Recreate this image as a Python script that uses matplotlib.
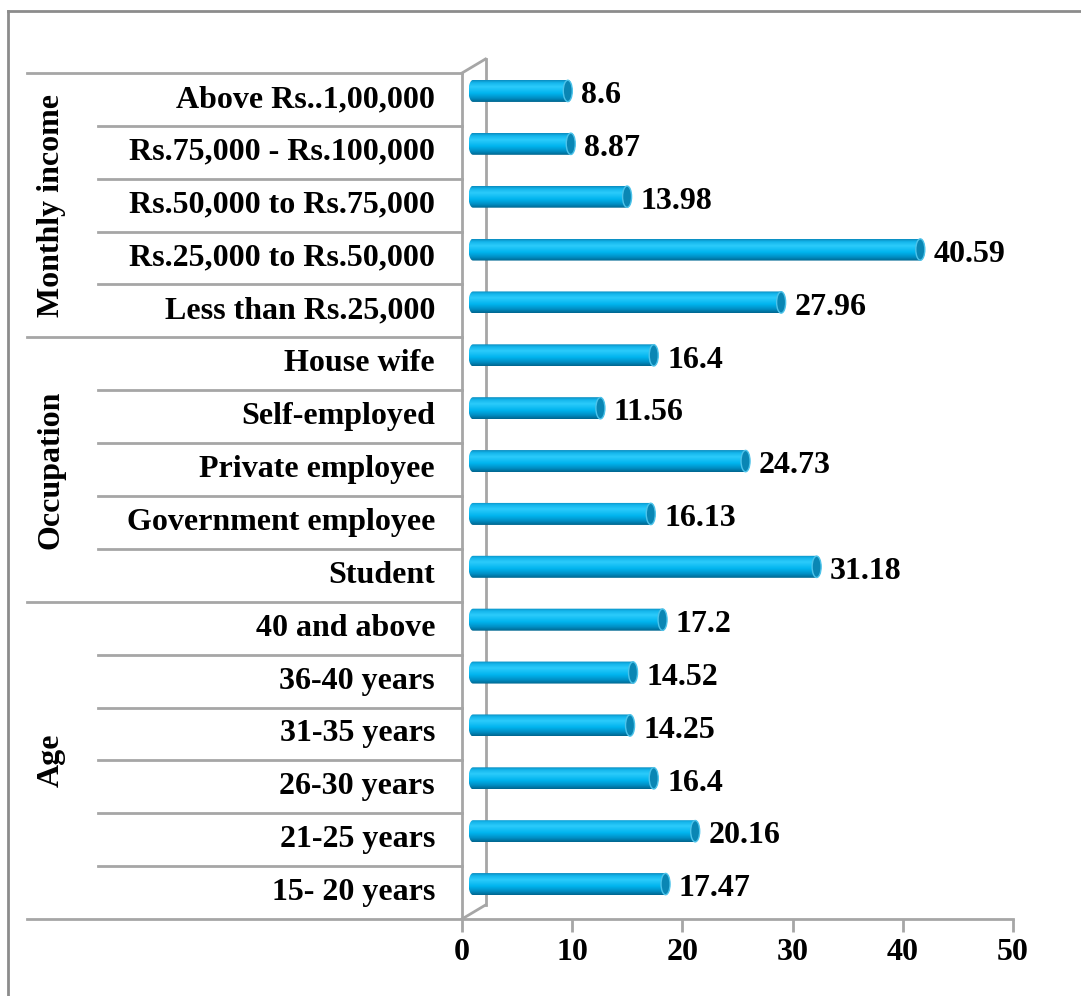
import numpy as np
import matplotlib
matplotlib.use('Agg')
import matplotlib.pyplot as plt
import matplotlib.transforms as mtransforms
from matplotlib.colors import LinearSegmentedColormap
from matplotlib.patches import PathPatch, Ellipse
from matplotlib.path import Path
from matplotlib.lines import Line2D

plt.rcParams['font.family'] = ['Liberation Serif', 'DejaVu Serif']
plt.rcParams['font.weight'] = 'bold'

# data, bottom to top inside each group
age_labels = ['15- 20 years', '21-25 years', '26-30 years', '31-35 years',
              '36-40 years', '40 and above']
age_vals = [17.47, 20.16, 16.4, 14.25, 14.52, 17.2]
occ_labels = ['Student', 'Government employee', 'Private employee',
              'Self-employed', 'House wife']
occ_vals = [31.18, 16.13, 24.73, 11.56, 16.4]
inc_labels = ['Less than Rs.25,000', 'Rs.25,000 to Rs.50,000',
              'Rs.50,000 to Rs.75,000', 'Rs.75,000 - Rs.100,000',
              'Above Rs..1,00,000']
inc_vals = [27.96, 40.59, 13.98, 8.87, 8.6]
groups = ['Age', 'Occupation', 'Monthly income']
xticks = [0, 10, 20, 30, 40, 50]

labels = age_labels + occ_labels + inc_labels
values = age_vals + occ_vals + inc_vals
sizes = [len(age_labels), len(occ_labels), len(inc_labels)]
n = len(values)

W, H = 1081, 996
fig = plt.figure(figsize=(W / 100, H / 100), dpi=100)
ax = fig.add_axes([462 / W, 77 / H, 551 / W, 846 / H])

gray = '#a6a6a6'
fs = 23

# cylinder gradient (bottom -> top)
cm = LinearSegmentedColormap.from_list('cyl', [
    (0.0, '#00668f'), (0.18, '#0090c6'), (0.4, '#00b4ee'),
    (0.7, '#2ccbfb'), (0.88, '#14b6ec'), (1.0, '#0a8cbf')])

px = 551 / 50.0          # pixels per x unit
py = 846 / n             # pixels per category
dx = 1.0                 # bar start (depth offset)
dy = 8.5 / py
h = 11 / py
r = 4.5 / px
grad = np.linspace(0, 1, 64).reshape(-1, 1)

for i, v in enumerate(values):
    yc = i + 0.5 + dy
    x0, x1 = dx, dx + v
    t1 = np.linspace(-np.pi / 2, np.pi / 2, 30)
    t2 = np.linspace(np.pi / 2, 3 * np.pi / 2, 30)
    xs = np.concatenate([x1 + r * np.cos(t1), x0 + r * np.cos(t2)])
    ys = np.concatenate([yc + h * np.sin(t1), yc + h * np.sin(t2)])
    verts = np.column_stack([xs, ys])
    verts = np.vstack([verts, verts[:1]])
    clip = PathPatch(Path(verts, closed=True), facecolor='none',
                     edgecolor='none', transform=ax.transData)
    ax.add_patch(clip)
    im = ax.imshow(grad, extent=[x0 - r, x1 + r, yc - h, yc + h],
                   origin='lower', cmap=cm, aspect='auto',
                   interpolation='bilinear', zorder=3)
    im.set_clip_path(clip)
    ax.add_patch(Ellipse((x1, yc), 2 * r, 2 * h * 0.97, facecolor='#0a86b4',
                         edgecolor='#4cc3ea', lw=1, zorder=4))
    ax.text(x1 + r + 0.8, yc - 0.09, f'{v:g}', ha='left', va='center',
            fontsize=fs, fontweight='bold', zorder=5)

ax.set_xlim(0, 50)
ax.set_ylim(0, n)

# 3d wall
wx, wy = 23.5 / px, 14 / py
kw = dict(color=gray, lw=2, clip_on=False, zorder=2)
ax.plot([0, wx], [n, n + wy], **kw)
ax.plot([wx, wx], [wy, n + wy], **kw)
ax.plot([0, wx], [0, wy], **kw)

for s in ['top', 'right']:
    ax.spines[s].set_visible(False)
for s in ['left', 'bottom']:
    ax.spines[s].set_color(gray)
    ax.spines[s].set_linewidth(2)
ax.set_yticks([])
ax.set_xticks(xticks)
ax.tick_params(axis='x', direction='out', length=9, width=2, color=gray,
               pad=5, labelsize=fs)
for lab in ax.get_xticklabels():
    lab.set_fontweight('bold')

# hierarchical category axis
tr = mtransforms.blended_transform_factory(fig.transFigure, ax.transData)
bounds = np.cumsum([0] + sizes)
for b in range(n + 1):
    xs = 27 / W if b in bounds else 98 / W
    fig.add_artist(Line2D([xs, 462 / W], [b, b], transform=tr,
                          color=gray, lw=2))
for i, lab in enumerate(labels):
    fig.text(435 / W, i + 0.5, lab, transform=tr, ha='right', va='center',
             fontsize=fs, fontweight='bold')
for g, name in enumerate(groups):
    fig.text(51 / W, (bounds[g] + bounds[g + 1]) / 2, name, transform=tr,
             ha='center', va='center', rotation=90, fontsize=fs,
             fontweight='bold')

# outer frame
fig.add_artist(Line2D([8 / W, 1], [1 - 11 / H] * 2, color='#8c8c8c', lw=2))
fig.add_artist(Line2D([8 / W, 8 / W], [0, 1 - 11 / H], color='#8c8c8c', lw=2))

fig.savefig('out.png', dpi=100)
